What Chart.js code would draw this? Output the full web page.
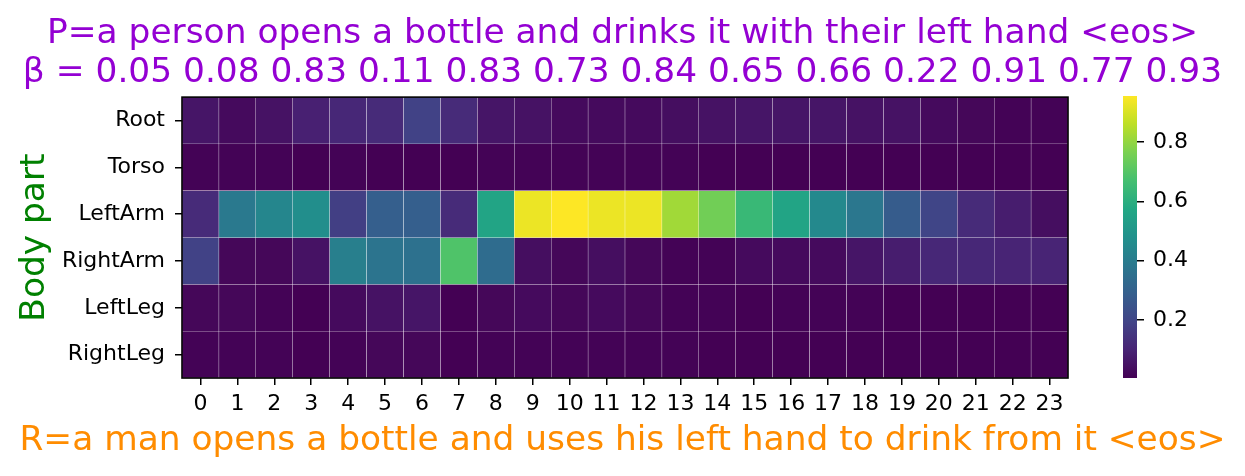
<!DOCTYPE html>
<html>
<head>
<meta charset="utf-8">
<script src="https://cdn.jsdelivr.net/npm/chart.js@4/dist/chart.umd.min.js"></script>
<style>
  html, body { margin: 0; padding: 0; background: #fff; }
  #wrap { position: relative; width: 1245px; height: 476px; }
  #heat { position: absolute; left: 0; top: 0; }
  #cbar { position: absolute; left: 1100px; top: 0; }
</style>
</head>
<body>
<div id="wrap">
  <canvas id="heat" width="1245" height="476"></canvas>
  <canvas id="cbar" width="145" height="476"></canvas>
</div>
<script>
// 토큰 인덱스 (x축)
var tokens = ['0','1','2','3','4','5','6','7','8','9','10','11','12','13','14','15','16','17','18','19','20','21','22','23'];
// 신체 부위 (y축)
var bodyParts = ['Root', 'Torso', 'LeftArm', 'RightArm', 'LeftLeg', 'RightLeg'];

// 각 부위별 attention 값
var root     = [0.06,0.03,0.05,0.09,0.11,0.12,0.19,0.12,0.06,0.05,0.03,0.03,0.03,0.04,0.05,0.06,0.06,0.06,0.05,0.05,0.03,0.02,0.01,0.01];
var torso    = [0.01,0.01,0.01,0.005,0.01,0.005,0.005,0.005,0.01,0.01,0.01,0.01,0.01,0.01,0.005,0.005,0.005,0.005,0.005,0.005,0.005,0.005,0.005,0.005];
var leftArm  = [0.12,0.39,0.44,0.47,0.18,0.29,0.29,0.12,0.56,0.93,0.955,0.93,0.93,0.82,0.75,0.64,0.56,0.45,0.38,0.28,0.20,0.12,0.08,0.04];
var rightArm = [0.19,0.02,0.02,0.05,0.41,0.37,0.36,0.69,0.34,0.04,0.02,0.04,0.02,0.01,0.01,0.03,0.03,0.03,0.06,0.08,0.11,0.11,0.10,0.10];
var leftLeg  = [0.02,0.02,0.01,0.005,0.03,0.05,0.06,0.005,0.02,0.03,0.02,0.03,0.02,0.01,0.01,0.005,0.01,0.01,0.01,0.005,0.005,0.005,0.005,0.005];
var rightLeg = [0.01,0.01,0.01,0.005,0.01,0.02,0.02,0.005,0.01,0.01,0.01,0.01,0.01,0.01,0.005,0.005,0.005,0.005,0.005,0.005,0.005,0.005,0.005,0.005];
var rows = [root, torso, leftArm, rightArm, leftLeg, rightLeg];

// 컬러바 눈금
var cbarTicks = [0.2, 0.4, 0.6, 0.8];

var titleLines = [
  'P=a person opens a bottle and drinks it with their left hand <eos>',
  '\u03b2 = 0.05 0.08 0.83 0.11 0.83 0.73 0.84 0.65 0.66 0.22 0.91 0.77 0.93'
];
var bottomTitle = 'R=a man opens a bottle and uses his left hand to drink from it <eos>';

// viridis 컬러맵
var viridis = ['#440154','#482475','#414487','#355f8d','#2a788e','#21918c','#22a884','#44bf70','#7ad151','#bddf26','#fde725'];
function hexToRgb(h) {
  return [parseInt(h.substr(1,2),16), parseInt(h.substr(3,2),16), parseInt(h.substr(5,2),16)];
}
function viridisColor(t) {
  t = Math.max(0, Math.min(1, t));
  var p = t * (viridis.length - 1);
  var i = Math.min(Math.floor(p), viridis.length - 2);
  var f = p - i;
  var a = hexToRgb(viridis[i]), b = hexToRgb(viridis[i + 1]);
  var c = a.map(function (v, k) { return Math.round(v + (b[k] - v) * f); });
  return 'rgb(' + c[0] + ',' + c[1] + ',' + c[2] + ')';
}

var allVals = [].concat.apply([], rows);
var vmin = Math.min.apply(null, allVals);
var vmax = Math.max.apply(null, allVals);

// 행마다 dataset 하나 (floating bar)
var datasets = rows.map(function (row, r) {
  return {
    label: bodyParts[r],
    data: row.map(function () { return [r - 0.5, r + 0.5]; }),
    backgroundColor: row.map(function (v) { return viridisColor((v - vmin) / (vmax - vmin)); }),
    borderColor: 'rgba(255,255,255,0.22)',
    borderWidth: 0.5,
    borderSkipped: false,
    barPercentage: 1,
    categoryPercentage: 1,
    grouped: false
  };
});

// 플롯 테두리
var frame = {
  id: 'frame',
  afterDatasetsDraw: function (chart) {
    var a = chart.chartArea, ctx = chart.ctx;
    ctx.save();
    ctx.strokeStyle = '#000';
    ctx.lineWidth = 1.6;
    ctx.strokeRect(a.left, a.top, a.right - a.left, a.bottom - a.top);
    ctx.restore();
  }
};

var heat = new Chart(document.getElementById('heat').getContext('2d'), {
  type: 'bar',
  data: { labels: tokens, datasets: datasets },
  options: {
    responsive: false,
    animation: false,
    layout: { padding: 0 },
    plugins: {
      legend: { display: false },
      tooltip: { enabled: false },
      title: {
        display: true,
        text: titleLines,
        color: '#9400d3',
        font: { family: 'DejaVu Sans', size: 34.4, weight: 'normal', lineHeight: 1.15 },
        padding: { top: 14, bottom: 4 }
      },
      subtitle: {
        display: true,
        position: 'bottom',
        text: bottomTitle,
        color: '#ff8c00',
        font: { family: 'DejaVu Sans', size: 34.4, weight: 'normal', lineHeight: 1.2 },
        padding: { top: 2, bottom: 14 }
      }
    },
    scales: {
      x: {
        type: 'category',
        grid: { display: true, offset: false, drawOnChartArea: false, drawTicks: true, tickLength: 7, color: '#000', lineWidth: 1.5 },
        border: { display: false },
        ticks: { color: '#000', font: { family: 'DejaVu Sans', size: 22 }, padding: 6, maxRotation: 0, autoSkip: false },
        afterFit: function (s) { s.height = 40.7; }
      },
      y: {
        type: 'linear',
        min: -0.5,
        max: 5.5,
        reverse: true,
        afterBuildTicks: function (s) { s.ticks = bodyParts.map(function (_, i) { return { value: i }; }); },
        grid: { display: true, drawOnChartArea: false, drawTicks: true, tickLength: 7, color: '#000', lineWidth: 1.5 },
        border: { display: false },
        ticks: {
          color: '#000',
          font: { family: 'DejaVu Sans', size: 22 },
          padding: 10,
          callback: function (v) { return bodyParts[v]; }
        },
        title: { display: true, text: 'Body part', color: '#008000', font: { family: 'DejaVu Sans', size: 34.4 }, padding: { top: 14, bottom: 0 } },
        afterFit: function (s) { s.width = 182; }
      },
      // 컬러바 자리 비우기용 빈 축
      yr: {
        type: 'linear',
        position: 'right',
        grid: { display: false },
        border: { display: false },
        ticks: { display: false },
        afterFit: function (s) { s.width = 177; }
      }
    }
  },
  plugins: [frame]
});

// 컬러바
var cbar = new Chart(document.getElementById('cbar').getContext('2d'), {
  type: 'bar',
  data: {
    labels: [''],
    datasets: [{
      data: [[vmin, vmax]],
      backgroundColor: function (ctx) {
        var a = ctx.chart.chartArea;
        if (!a) return viridis[5];
        var g = ctx.chart.ctx.createLinearGradient(0, a.bottom, 0, a.top);
        viridis.forEach(function (c, i) { g.addColorStop(i / (viridis.length - 1), c); });
        return g;
      },
      borderWidth: 0,
      barPercentage: 1,
      categoryPercentage: 1
    }]
  },
  options: {
    responsive: false,
    animation: false,
    layout: { padding: { left: 23, right: 0, top: 96, bottom: 98 } },
    plugins: { legend: { display: false }, tooltip: { enabled: false } },
    scales: {
      x: { display: false },
      y: {
        position: 'right',
        min: vmin,
        max: vmax,
        afterBuildTicks: function (s) { s.ticks = cbarTicks.map(function (v) { return { value: v }; }); },
        grid: { display: true, drawOnChartArea: false, drawTicks: true, tickLength: 7, color: '#000', lineWidth: 1.5 },
        border: { display: false },
        ticks: { color: '#000', font: { family: 'DejaVu Sans', size: 22 }, padding: 9, callback: function (v) { return v.toFixed(1); } },
        afterFit: function (s) { s.width = 108; }
      }
    }
  }
});
</script>
</body>
</html>
